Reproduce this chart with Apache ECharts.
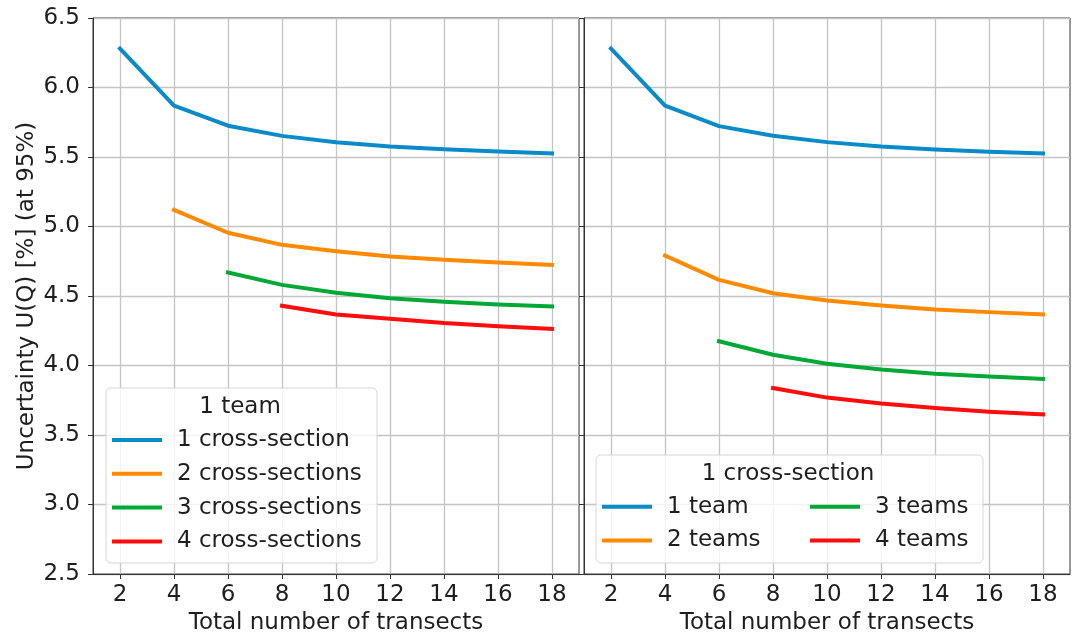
<!DOCTYPE html>
<html>
<head>
<meta charset="utf-8">
<title>Uncertainty vs number of transects</title>
<script src="https://cdn.jsdelivr.net/npm/echarts@6/dist/echarts.min.js"></script>
<style>
  html, body { margin: 0; padding: 0; background: #fff; }
  #chart { width: 1074px; height: 634px; }
</style>
</head>
<body>
<div id="chart"></div>
<script>
// Total number of transects (x positions shared by every curve)
const transects = [2, 4, 6, 8, 10, 12, 14, 16, 18];
const xTicks = [2, 4, 6, 8, 10, 12, 14, 16, 18];
const yTicks = [2.5, 3.0, 3.5, 4.0, 4.5, 5.0, 5.5, 6.0, 6.5];

// Left panel: 1 team, varying number of cross-sections (U(Q) in %)
const crossSection1 = [6.28, 5.87, 5.725, 5.652, 5.606, 5.576, 5.556, 5.539, 5.526];
const crossSection2 = [null, 5.12, 4.955, 4.868, 4.822, 4.784, 4.760, 4.741, 4.724];
const crossSection3 = [null, null, 4.669, 4.580, 4.523, 4.484, 4.458, 4.439, 4.425];
const crossSection4 = [null, null, null, 4.430, 4.367, 4.336, 4.305, 4.283, 4.264];

// Right panel: 1 cross-section, varying number of teams (U(Q) in %)
const team1 = [6.28, 5.87, 5.722, 5.653, 5.607, 5.576, 5.554, 5.537, 5.526];
const team2 = [null, 4.791, 4.616, 4.520, 4.468, 4.432, 4.403, 4.384, 4.367];
const team3 = [null, null, 4.175, 4.077, 4.013, 3.972, 3.941, 3.920, 3.903];
const team4 = [null, null, null, 3.838, 3.769, 3.726, 3.694, 3.668, 3.649];

const leftNames = ['1 cross-section', '2 cross-sections', '3 cross-sections', '4 cross-sections'];
const rightNames = ['1 team', '2 teams', '3 teams', '4 teams'];
const colors = ['#0a8bc9', '#ff8a00', '#00a935', '#ff0d0d'];

const FONT = 'DejaVu Sans';
const FS = 23;
const TEXT = '#1e1e1e';
const SPINE = '#333333';
const GRIDC = '#c4c4c4';

function pairs(values) {
  const out = [];
  values.forEach((v, i) => { if (v != null) out.push([transects[i], v]); });
  return out;
}

function lineSeries(name, values, idx, color) {
  return {
    name: name,
    type: 'line',
    xAxisIndex: idx,
    yAxisIndex: idx,
    data: pairs(values),
    symbol: 'none',
    showSymbol: false,
    z: 3,
    lineStyle: { color: color, width: 4, cap: 'square', join: 'round' },
    itemStyle: { color: color },
    emphasis: { disabled: true }
  };
}

function xAxisFor(idx) {
  return {
    type: 'value',
    gridIndex: idx,
    min: 1,
    max: 19,
    name: 'Total number of transects',
    nameLocation: 'middle',
    nameGap: 35,
    nameTextStyle: { fontFamily: FONT, fontSize: FS, color: TEXT },
    axisLine: { show: true, onZero: false, lineStyle: { color: SPINE, width: 1 } },
    axisTick: { show: true, length: 5, customValues: xTicks, lineStyle: { color: SPINE, width: 1 } },
    axisLabel: { customValues: xTicks, margin: 10, fontFamily: FONT, fontSize: FS, color: TEXT },
    splitLine: { show: true, lineStyle: { color: GRIDC, width: 1.3 } }
  };
}

function yAxisFor(idx) {
  const ax = {
    type: 'value',
    gridIndex: idx,
    min: 2.5,
    max: 6.5,
    interval: 0.5,
    axisLine: { show: true, lineStyle: { color: SPINE, width: 1 } },
    axisTick: { show: true, length: 5, lineStyle: { color: SPINE, width: 1 } },
    axisLabel: {
      show: idx === 0,
      margin: 13,
      fontFamily: FONT,
      fontSize: FS,
      color: TEXT,
      formatter: v => Number(v).toFixed(1)
    },
    splitLine: { show: true, lineStyle: { color: GRIDC, width: 1.3 } }
  };
  if (idx === 0) {
    ax.name = 'Uncertainty U(Q) [%] (at 95%)';
    ax.nameLocation = 'middle';
    ax.nameGap = 54;
    ax.nameTextStyle = { fontFamily: FONT, fontSize: FS, color: TEXT };
  }
  return ax;
}

const legendText = { fontFamily: FONT, fontSize: FS, lineHeight: 23, color: TEXT, padding: [0, 0, 0, 10] };

function legendBlock(names, left, top) {
  return {
    data: names,
    orient: 'vertical',
    left: left,
    top: top,
    padding: 0,
    icon: 'rect',
    itemWidth: 50,
    itemHeight: 4,
    itemGap: 10.8,
    selectedMode: false,
    z: 10,
    textStyle: legendText
  };
}

const chart = echarts.init(document.getElementById('chart'), null, { renderer: 'canvas' });

chart.setOption({
  animation: false,
  backgroundColor: '#ffffff',
  grid: [
    { left: 93, top: 18, width: 486, height: 556, outerBoundsMode: 'none', containLabel: false, show: true, borderColor: SPINE, borderWidth: 1, backgroundColor: 'transparent' },
    { left: 584, top: 18, width: 486, height: 556, outerBoundsMode: 'none', containLabel: false, show: true, borderColor: SPINE, borderWidth: 1, backgroundColor: 'transparent' }
  ],
  xAxis: [xAxisFor(0), xAxisFor(1)],
  yAxis: [yAxisFor(0), yAxisFor(1)],
  legend: [
    legendBlock(leftNames, 112, 428.5),
    legendBlock(rightNames.slice(0, 2), 602, 495.2),
    legendBlock(rightNames.slice(2, 4), 810, 495.2)
  ],
  graphic: [
    {
      type: 'rect', z: 8,
      shape: { x: 106, y: 388, width: 271, height: 175, r: 5 },
      style: { fill: 'rgba(255,255,255,0.8)', stroke: '#d6d6d6', lineWidth: 1 }
    },
    {
      type: 'text', z: 9,
      style: { x: 240, y: 407, text: '1 team', fontFamily: FONT, fontSize: FS, fill: TEXT, align: 'center', verticalAlign: 'middle' }
    },
    {
      type: 'rect', z: 8,
      shape: { x: 596, y: 455, width: 387, height: 108, r: 5 },
      style: { fill: 'rgba(255,255,255,0.8)', stroke: '#d6d6d6', lineWidth: 1 }
    },
    {
      type: 'text', z: 9,
      style: { x: 788, y: 474, text: '1 cross-section', fontFamily: FONT, fontSize: FS, fill: TEXT, align: 'center', verticalAlign: 'middle' }
    }
  ],
  series: [
    lineSeries(leftNames[0], crossSection1, 0, colors[0]),
    lineSeries(leftNames[1], crossSection2, 0, colors[1]),
    lineSeries(leftNames[2], crossSection3, 0, colors[2]),
    lineSeries(leftNames[3], crossSection4, 0, colors[3]),
    lineSeries(rightNames[0], team1, 1, colors[0]),
    lineSeries(rightNames[1], team2, 1, colors[1]),
    lineSeries(rightNames[2], team3, 1, colors[2]),
    lineSeries(rightNames[3], team4, 1, colors[3])
  ]
});
</script>
</body>
</html>
